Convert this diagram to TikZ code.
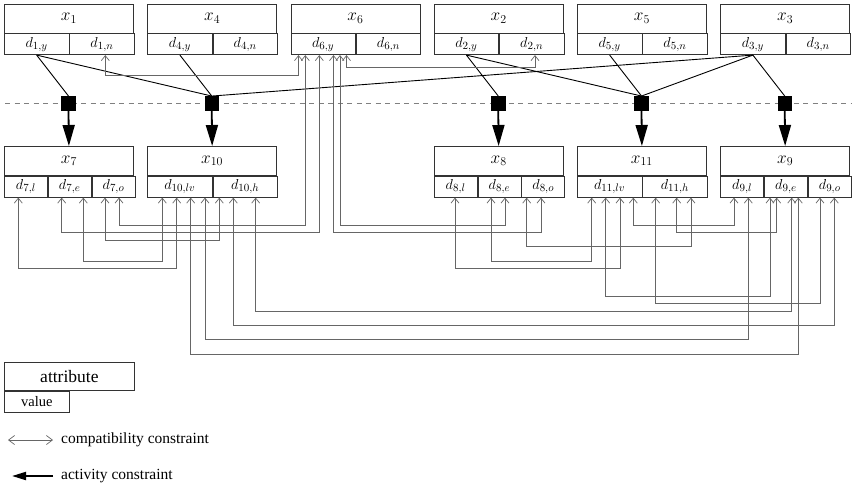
\documentclass[tikz,border=0pt]{standalone}
\usepackage{fontspec}
\setmainfont{Liberation Serif}
\usetikzlibrary{arrows.meta}
\newcommand\cc[5]{\draw[comp] (#1,0 |- #2.south) -- (#1,#5) -- (#3,#5) -- (#3,0 |- #4.south);}
\begin{document}
\begin{tikzpicture}[x=1pt,y=-1pt,
  hdr/.style={draw=black!80, line width=0.8pt, minimum width=129pt, minimum height=29pt,
    inner sep=0pt, anchor=north west, font=\fontsize{18.5}{18.5}\selectfont},
  vtwo/.style={draw=black!80, line width=0.8pt, minimum width=64.5pt, minimum height=21pt,
    inner sep=0pt, anchor=north west, font=\fontsize{15.5}{15.5}\selectfont},
  vthree/.style={vtwo, minimum width=43pt},
  comp/.style={draw=black!60, line width=0.7pt,
    {Straight Barb[length=5pt,width=8pt]}-{Straight Barb[length=5pt,width=8pt]}},
  act/.style={draw=black, line width=0.9pt},
  sq/.style={fill=black, minimum size=14.5pt, inner sep=0pt},
  actarrow/.style={draw=black, line width=1.8pt, -{Triangle[length=21pt,width=12pt]}},
  legtext/.style={anchor=west, inner sep=0pt, font=\fontsize{15.5}{15.5}\selectfont}
]
\useasboundingbox (0,0) rectangle (852,488);

% ---------- top row ----------
\node[hdr] (x1) at (4,3.5) {$x_1$};
\node[vtwo] (d1y) at (x1.south west) {$d_{1,y}$};
\node[vtwo] (d1n) at (d1y.north east) {$d_{1,n}$};

\node[hdr] (x4) at (147.25,3.5) {$x_4$};
\node[vtwo] (d4y) at (x4.south west) {$d_{4,y}$};
\node[vtwo] (d4n) at (d4y.north east) {$d_{4,n}$};

\node[hdr] (x6) at (290.5,3.5) {$x_6$};
\node[vtwo] (d6y) at (x6.south west) {$d_{6,y}$};
\node[vtwo] (d6n) at (d6y.north east) {$d_{6,n}$};

\node[hdr] (x2) at (433.75,3.5) {$x_2$};
\node[vtwo] (d2y) at (x2.south west) {$d_{2,y}$};
\node[vtwo] (d2n) at (d2y.north east) {$d_{2,n}$};

\node[hdr] (x5) at (577,3.5) {$x_5$};
\node[vtwo] (d5y) at (x5.south west) {$d_{5,y}$};
\node[vtwo] (d5n) at (d5y.north east) {$d_{5,n}$};

\node[hdr] (x3) at (720.25,3.5) {$x_3$};
\node[vtwo] (d3y) at (x3.south west) {$d_{3,y}$};
\node[vtwo] (d3n) at (d3y.north east) {$d_{3,n}$};

% ---------- middle row ----------
\node[hdr] (x7) at (4,146) {$x_7$};
\node[vthree] (d7l) at (x7.south west) {$d_{7,l}$};
\node[vthree] (d7e) at (d7l.north east) {$d_{7,e}$};
\node[vthree] (d7o) at (d7e.north east) {$d_{7,o}$};

\node[hdr] (x10) at (147.25,146) {$x_{10}$};
\node[vtwo] (d10lv) at (x10.south west) {$d_{10,lv}$};
\node[vtwo] (d10h) at (d10lv.north east) {$d_{10,h}$};

\node[hdr] (x8) at (433.75,146) {$x_8$};
\node[vthree] (d8l) at (x8.south west) {$d_{8,l}$};
\node[vthree] (d8e) at (d8l.north east) {$d_{8,e}$};
\node[vthree] (d8o) at (d8e.north east) {$d_{8,o}$};

\node[hdr] (x11) at (577,146) {$x_{11}$};
\node[vtwo] (d11lv) at (x11.south west) {$d_{11,lv}$};
\node[vtwo] (d11h) at (d11lv.north east) {$d_{11,h}$};

\node[hdr] (x9) at (720.25,146) {$x_9$};
\node[vthree] (d9l) at (x9.south west) {$d_{9,l}$};
\node[vthree] (d9e) at (d9l.north east) {$d_{9,e}$};
\node[vthree] (d9o) at (d9e.north east) {$d_{9,o}$};

% ---------- dashed separator ----------
\coordinate (dl) at (5,103.5);
\coordinate (dr) at (852,103.5);
\draw[black!50, line width=1.2pt, dash pattern=on 5pt off 4.5pt] (dl) -- (dr);

% ---------- activity constraints ----------
\node[sq] (s1) at (68.5,103.5) {};
\node[sq] (s2) at (211.75,103.5) {};
\node[sq] (s3) at (498.25,103.5) {};
\node[sq] (s4) at (641.5,103.5) {};
\node[sq] (s5) at (784.75,103.5) {};

\draw[act] (d1y.south) -- (s1.north);
\draw[act] (d1y.south) -- (s2.north);
\draw[act] (d4y.south) -- (s2.north);
\draw[act] (d3y.south) -- (s2.north);
\draw[act] (d2y.south) -- (s3.north);
\draw[act] (d2y.south) -- (s4.north);
\draw[act] (d5y.south) -- (s4.north);
\draw[act] (d3y.south) -- (s4.north);
\draw[act] (d3y.south) -- (s5.north);

\draw[actarrow] (s1.south) -- (x7.north);
\draw[actarrow] (s2.south) -- (x10.north);
\draw[actarrow] (s3.south) -- (x8.north);
\draw[actarrow] (s4.south) -- (x11.north);
\draw[actarrow] (s5.south) -- (x9.north);

% ---------- compatibility constraints ----------
\cc{105.3}{d1n}{298.5}{d6y}{75.3}
\cc{346.5}{d6y}{535}{d2n}{67}
\cc{305.3}{d6y}{119}{d7o}{225}
\cc{319.3}{d6y}{61.7}{d7e}{232.3}
\cc{340}{d6y}{505}{d8e}{225}
\cc{333.5}{d6y}{541}{d8o}{232.3}

\cc{18.3}{d7l}{176.7}{d10lv}{268.3}
\cc{83.3}{d7e}{162.3}{d10lv}{261}
\cc{105}{d7o}{219.3}{d10h}{240}
\cc{455}{d8l}{620}{d11lv}{268.3}
\cc{491}{d8e}{591.7}{d11lv}{261}
\cc{526.7}{d8o}{691}{d11h}{246.7}
\cc{633.3}{d11lv}{734}{d9l}{225}
\cc{676.7}{d11h}{776.7}{d9e}{232.3}
\cc{605.7}{d11lv}{770}{d9e}{296.7}
\cc{655.7}{d11h}{820}{d9o}{303.3}
\cc{255.7}{d10h}{791.7}{d9e}{311}
\cc{233.3}{d10h}{834.3}{d9o}{325.3}
\cc{205}{d10lv}{748.3}{d9l}{339.3}
\cc{190.7}{d10lv}{798.3}{d9e}{354}

% ---------- legend ----------
\node[hdr, minimum width=130pt, minimum height=28.5pt, font=\fontsize{17.5}{17.5}\selectfont] (la) at (4,361.5) {attribute};
\node[vtwo, minimum width=65pt, minimum height=21.5pt, font=\fontsize{14.5}{14.5}\selectfont] (lv) at (la.south west) {value};

\coordinate (lc1) at (8,440);
\coordinate (lc2) at (53,440);
\draw[draw=black!60, line width=0.7pt,
  {Straight Barb[length=6pt,width=9pt]}-{Straight Barb[length=6pt,width=9pt]}] (lc1) -- (lc2);
\node[legtext] (lct) at (61,440) {compatibility constraint};

\coordinate (la1) at (53,476);
\coordinate (la2) at (12,476);
\draw[draw=black, line width=2pt, -{Triangle[length=14pt,width=8pt]}] (la1) -- (la2);
\node[legtext] (lat) at (61,476) {activity constraint};
\end{tikzpicture}
\end{document}
